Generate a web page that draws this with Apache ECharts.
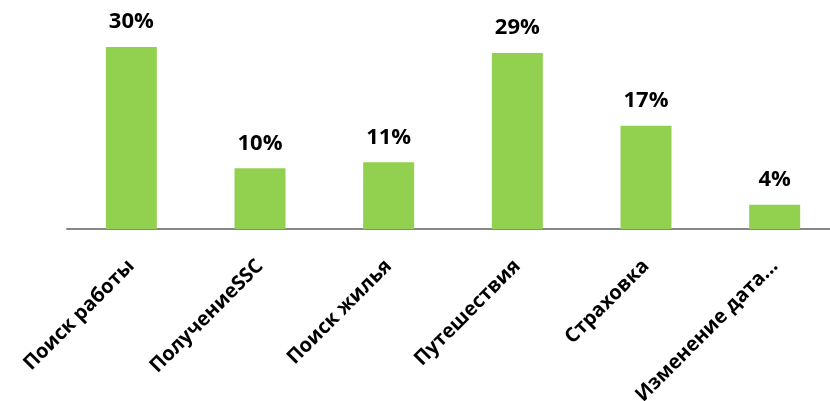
<!DOCTYPE html>
<html>
<head>
<meta charset="utf-8">
<script src="https://cdn.jsdelivr.net/npm/echarts@6/dist/echarts.min.js"></script>
<style>
html,body{margin:0;padding:0;background:#fff;}
#chart{width:830px;height:401px;}
</style>
</head>
<body>
<div id="chart"></div>
<script>
const categories = ["Поиск работы", "ПолучениеSSC", "Поиск жилья", "Путешествия", "Страховка", "Изменение дата..."];
const values = [30, 10, 11, 29, 17, 4];

const chart = echarts.init(document.getElementById('chart'), null, {renderer: 'canvas'});
chart.setOption({
  animation: false,
  backgroundColor: '#ffffff',
  grid: {left: 67, top: 47, width: 772, height: 182, containLabel: false, outerBoundsMode: 'none'},
  xAxis: {
    type: 'category',
    data: categories,
    axisLine: {show: true, lineStyle: {color: '#878787', width: 2}},
    axisTick: {show: false},
    axisLabel: {
      rotate: 45,
      margin: 34,
      interval: 0,
      color: '#000',
      fontFamily: 'Open Sans',
      fontWeight: 'bold',
      fontSize: 20
    }
  },
  yAxis: {
    type: 'value',
    min: 0,
    max: 30,
    show: false,
    splitLine: {show: false}
  },
  series: [{
    type: 'bar',
    data: values,
    barWidth: 51,
    itemStyle: {color: '#92D050'},
    label: {
      show: true,
      position: 'top',
      distance: 14,
      formatter: '{c}%',
      color: '#000',
      fontFamily: 'Open Sans',
      fontWeight: 'bold',
      fontSize: 22
    }
  }]
});
</script>
</body>
</html>
